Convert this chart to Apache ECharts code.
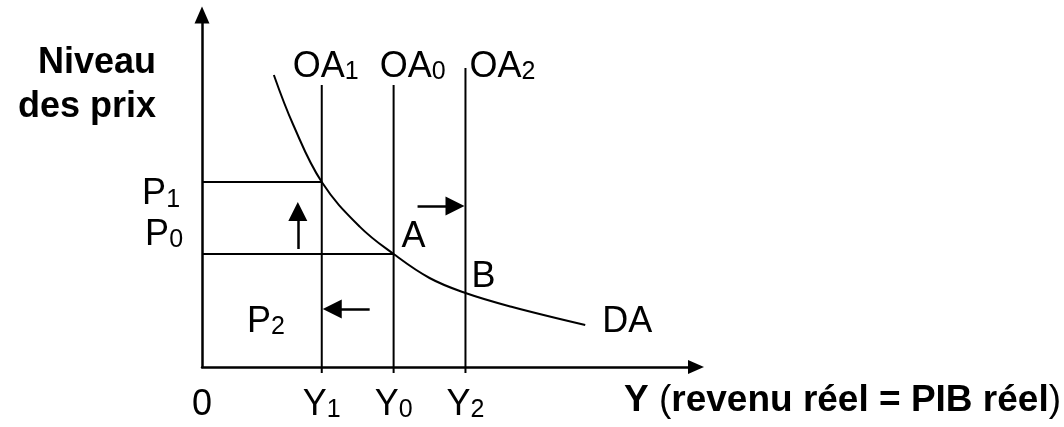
<!DOCTYPE html>
<html>
<head>
<meta charset="utf-8">
<script src="https://cdn.jsdelivr.net/npm/echarts@6/dist/echarts.min.js"></script>
<style>
  html, body { margin: 0; background: #fff; }
  #chart { width: 1064px; height: 427px; }
</style>
</head>
<body>
<div id="chart"></div>
<script>
const FONT = 'Liberation Sans, Arial, sans-serif'

// aggregate demand curve DA (x = real output, y = price level)
const daCurve = [
  [14.4, 73], [18.3, 60.5], [24, 46.25], [31.6, 35.1], [38.4, 28.25],
  [45.6, 22.25], [52.8, 18.5], [62.2, 15], [76.8, 10.5],
]
// vertical supply lines OA1, OA0, OA2 : [output, top of line]
const supplyLines = [[24, 70.5], [38.4, 70.5], [52.8, 74.75]]
// price guides P1, P0 : [price level, output where the guide stops]
const priceGuides = [[46.25, 24], [28.25, 38.4]]
// x axis ticks
const xTickValues = [0, 24, 38.4, 52.8]
const xTickLabels = ['0', 'Y{s|1}', 'Y{s|0}', 'Y{s|2}']
// shift arrows : [from, to]
const shiftArrows = [
  [[19.2, 29.5], [19.2, 38.9]],
  [[43.2, 40.25], [50.7, 40.25]],
  [[33.6, 14.5], [26.1, 14.5]],
]
// text labels : [text, x, y]
const labels = [
  ['OA{s|1}', 18.2, 75.1],
  ['OA{s|0}', 35.6, 75.1],
  ['OA{s|2}', 53.6, 75.1],
  ['P{s|1}', -12, 43.2],
  ['P{s|0}', -11.4, 33.0],
  ['P{s|2}', 9, 11.3],
  ['A', 40, 32.4],
  ['B', 54, 22.4],
  ['DA', 80.2, 11.2],
]
const axisFloor = -1.5

const chart = echarts.init(document.getElementById('chart'))

const rich = {
  s: { fontSize: 25, fontFamily: FONT, color: '#000', verticalAlign: 'bottom' },
  n: { fontSize: 37, fontFamily: FONT, color: '#000', fontWeight: 'normal' },
}
const black = { color: '#000', width: 2 }

const lineSeries = (data, smooth) => ({
  type: 'line',
  data: data,
  symbol: 'none',
  smooth: smooth || false,
  clip: false,
  lineStyle: black,
  silent: true,
})

const series = []
supplyLines.forEach(([x, top]) => series.push(lineSeries([[x, axisFloor], [x, top]])))
priceGuides.forEach(([p, x]) => series.push(lineSeries([[0, p], [x, p]])))
series.push(lineSeries(daCurve, 0.4))
series.push({
  type: 'lines',
  coordinateSystem: 'cartesian2d',
  data: shiftArrows.map((c) => ({ coords: c, symbolSize: 19 })),
  symbol: ['none', 'triangle'],
  symbolSize: 19,
  lineStyle: { color: '#000', width: 2.5, opacity: 1 },
  itemStyle: { color: '#000' },
  silent: true,
})
series.push({
  type: 'scatter',
  data: labels.map(([t, x, y]) => ({ value: [x, y], name: t })),
  symbolSize: 0,
  clip: false,
  silent: true,
  itemStyle: { opacity: 1, color: '#000' },
  label: {
    show: true,
    position: [0, 0],
    align: 'left',
    verticalAlign: 'middle',
    formatter: (p) => p.name,
    fontSize: 36,
    fontFamily: FONT,
    color: '#000',
    opacity: 1,
    rich: rich,
  },
})

const option = {
  animation: false,
  grid: { left: 202, right: 367, top: 15, bottom: 60 },
  xAxis: {
    type: 'value',
    min: 0,
    max: 99,
    offset: 6,
    axisLine: {
      lineStyle: { color: '#000', width: 2.5 },
      symbol: ['none', 'triangle'],
      symbolSize: [14, 16],
    },
    axisTick: { show: false },
    splitLine: { show: false },
    axisLabel: {
      customValues: xTickValues,
      formatter: (v) => xTickLabels[xTickValues.indexOf(v)],
      fontSize: 36,
      fontFamily: FONT,
      color: '#000',
      margin: 14,
      rich: rich,
    },
    name: 'Y {n|(}revenu réel = PIB réel{n|)}',
    nameLocation: 'end',
    nameGap: 365,
    nameTextStyle: {
      fontSize: 37,
      fontWeight: 'bold',
      fontFamily: FONT,
      color: '#000',
      align: 'right',
      verticalAlign: 'top',
      padding: [15, 0, 0, 0],
      rich: rich,
    },
  },
  yAxis: {
    type: 'value',
    min: 0,
    max: 88,
    axisLine: {
      lineStyle: { color: '#000', width: 2.5 },
      symbol: ['none', 'triangle'],
      symbolSize: [15, 17],
    },
    axisTick: { show: false },
    splitLine: { show: false },
    axisLabel: { show: false },
    name: 'Niveau\ndes prix',
    nameLocation: 'end',
    nameGap: -70,
    nameTextStyle: {
      fontSize: 36,
      fontWeight: 'bold',
      fontFamily: FONT,
      color: '#000',
      align: 'right',
      verticalAlign: 'middle',
      lineHeight: 44,
      padding: [0, 46, 0, 0],
    },
  },
  series: series,
}

chart.setOption(option)
window.addEventListener('resize', () => chart.resize())
</script>
</body>
</html>
